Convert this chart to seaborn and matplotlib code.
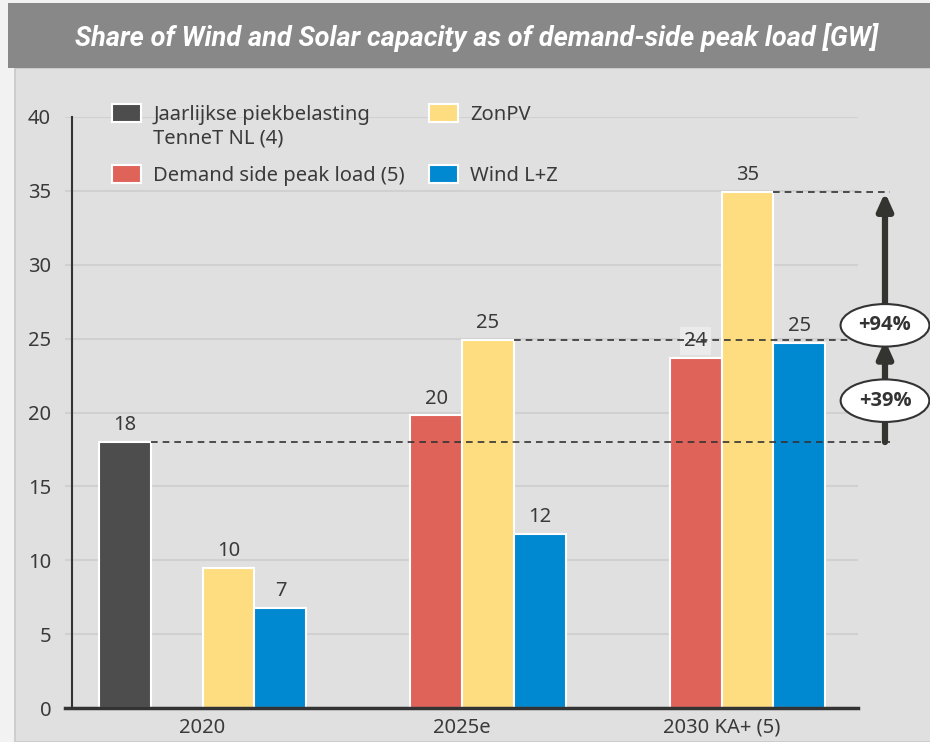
import numpy as np
import pandas as pd
import matplotlib
matplotlib.use("Agg")
import matplotlib.pyplot as plt
import seaborn as sns
from matplotlib.patches import Rectangle

# data
years = ["2020", "2025e", "2030 KA+ (5)"]
series = ["Jaarlijkse piekbelasting\nTenneT NL (4)", "Demand side peak load (5)", "ZonPV", "Wind L+Z"]
peak_tennet = [18.0, np.nan, np.nan]
demand_peak = [np.nan, 19.8, 23.7]
zon_pv = [9.5, 24.9, 34.9]
wind = [6.8, 11.8, 24.7]
colors = ["#4d4d4d", "#e0635a", "#fedd80", "#0088d1"]
growth_labels = ["+39%", "+94%"]
title = "Share of Wind and Solar capacity as of demand-side peak load [GW]"

df = pd.DataFrame({
    "year": years * 4,
    "series": np.repeat(series, len(years)),
    "value": peak_tennet + demand_peak + zon_pv + wind,
}).dropna()

sns.set_style("white")
plt.rcParams["font.family"] = ["Noto Sans", "DejaVu Sans"]
txt = "#3a3a3a"
fs = 14.5

fig = plt.figure(figsize=(9.3, 7.42), dpi=100)
fig.patch.set_facecolor("#f2f2f2")
W, H = 930, 742

# background panel and title banner
fig.patches.append(Rectangle((15 / W, 0), 1, (H - 68) / H, transform=fig.transFigure,
                             facecolor="#e0e0e0", edgecolor="#c8c8c8", lw=1.2, zorder=-2))
fig.patches.append(Rectangle((8 / W, (H - 68) / H), 1, 65 / H, transform=fig.transFigure,
                             facecolor="#888888", edgecolor="none", zorder=-1))
fig.text(477 / W, 1 - 37 / H, title, color="white", fontsize=19.5, fontweight="bold",
         fontstyle="italic", family="Roboto", ha="center", va="center")

ax = fig.add_axes([65 / W, (H - 708) / H, 793 / W, 591 / H])
ax.set_facecolor("none")

sns.barplot(data=df, x="year", y="value", hue="series", order=years, hue_order=series,
            palette=colors, saturation=1, width=0.8, edgecolor="white", linewidth=1.5, ax=ax)

ax.set_ylim(0, 40)
ax.set_xlim(-0.53, 2.526)
ax.set_yticks(range(0, 41, 5))
ax.set_xlabel("")
ax.set_ylabel("")
ax.yaxis.grid(True, color="#d0d0d0", lw=1.5)
ax.set_axisbelow(True)

for s in ["top", "right"]:
    ax.spines[s].set_visible(False)
ax.spines["left"].set_position(("axes", 7 / 793))
ax.spines["left"].set_color("#333333")
ax.spines["left"].set_linewidth(1.5)
ax.spines["bottom"].set_color("#333333")
ax.spines["bottom"].set_linewidth(2.5)
ax.tick_params(axis="y", length=5, width=1.5, color="#333333", pad=10, labelsize=fs, labelcolor=txt)
ax.tick_params(axis="x", length=0, pad=7, labelsize=fs, labelcolor=txt)

# value labels
for i, c in enumerate(ax.containers):
    texts = ax.bar_label(c, fmt="{:.0f}", padding=5, fontsize=fs, color=txt)
    if i == 1:
        texts[-1].set_bbox(dict(facecolor="#ebebeb", edgecolor="none", pad=3))

# reference dashed lines and growth arrows
xa = 2.63
dark_bar = ax.containers[0][0]
pv25 = ax.containers[2][1]
pv30 = ax.containers[2][2]
levels = []
for b in [dark_bar, pv25, pv30]:
    y = b.get_height()
    levels.append(y)
    ax.plot([b.get_x() + b.get_width(), xa + 0.02], [y, y], color="#333333", lw=1.2,
            ls=(0, (4, 3)), clip_on=False, zorder=3)

for (y0, y1) in [(levels[0], levels[1]), (levels[1], levels[2])]:
    ax.annotate("", xy=(xa, y1), xytext=(xa, y0), annotation_clip=False,
                arrowprops=dict(arrowstyle="-|>,head_width=0.45,head_length=1.0",
                                lw=4.5, color="#333330", shrinkA=0, shrinkB=0))

for lab, y in zip(growth_labels, [20.8, 25.9]):
    ax.text(xa, y, lab, ha="center", va="center", fontsize=fs, fontweight="bold", color="#333333",
            family="Open Sans", clip_on=False, zorder=5,
            bbox=dict(boxstyle="ellipse,pad=0.25", facecolor="white", edgecolor="#333333", lw=1.5))

# legend: first line of each name; the wrapped second line is added below
handles, labels = ax.get_legend_handles_labels()
first_lines = [l.split("\n")[0] for l in labels]
leg = ax.legend(handles, first_lines, ncol=2, loc="upper left", bbox_to_anchor=(0.059, 1.022),
                frameon=False, fontsize=fs, labelcolor=txt, handlelength=1.45, handleheight=1.0,
                handletextpad=0.6, columnspacing=1.2, borderpad=0, borderaxespad=0, labelspacing=2.0)
for h in leg.legend_handles:
    h.set_edgecolor("white")
    h.set_linewidth(1.5)

fig.canvas.draw()
t0 = leg.get_texts()[0]
bb = t0.get_window_extent()
for k, extra in enumerate(labels[0].split("\n")[1:]):
    fig.text(bb.x0 / W, (bb.y0 - 24 * (k + 1)) / H, extra, fontsize=fs, color=txt,
             ha="left", va="bottom")

fig.savefig("out.png", dpi=100, facecolor=fig.get_facecolor())
